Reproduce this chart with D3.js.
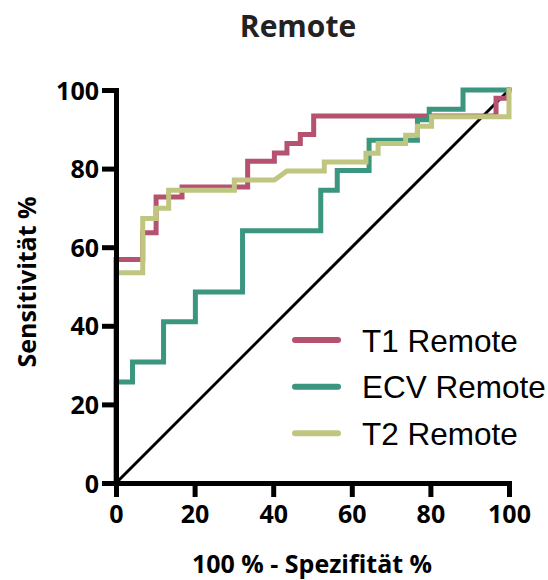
<!DOCTYPE html>
<html>
<head>
<meta charset="utf-8">
<script src="https://cdn.jsdelivr.net/npm/d3@7"></script>
<style>
  html, body { margin: 0; padding: 0; background: #fff; }
  svg { display: block; }
</style>
</head>
<body>
<svg id="chart" width="548" height="580"></svg>
<script>
// ---- Data ----
const title = "Remote";
const xLabel = "100 % - Spezifität %";
const yLabel = "Sensitivität %";
const xTicks = [0, 20, 40, 60, 80, 100];
const yTicks = [0, 20, 40, 60, 80, 100];

const seriesNames = ["T1 Remote", "ECV Remote", "T2 Remote"];
const seriesColors = ["#b5526f", "#3a967e", "#c0c580"];

// T1 Remote ROC corner points (100% - specificity, sensitivity)
const t1X = [0, 0, 6.8, 6.8, 10.2, 10.2, 16.8, 16.8, 33.5, 33.5, 40.3, 40.3, 43.5, 43.5, 46.9, 46.9, 50.3, 50.3, 96.7, 96.7, 99.6, 100];
const t1Y = [0, 56.9, 56.9, 63.7, 63.7, 72.8, 72.8, 75.3, 75.3, 81.9, 81.9, 84.0, 84.0, 86.4, 86.4, 88.7, 88.7, 93.4, 93.4, 97.9, 97.9, 100];

// ECV Remote
const ecvX = [0, 0, 4.2, 4.2, 12.1, 12.1, 20.2, 20.2, 32.2, 32.2, 52.1, 52.1, 56.3, 56.3, 64.4, 64.4, 76.7, 76.7, 79.7, 79.7, 88.3, 88.3, 100];
const ecvY = [0, 25.7, 25.7, 30.8, 30.8, 41.0, 41.0, 48.6, 48.6, 64.2, 64.2, 74.5, 74.5, 79.5, 79.5, 87.2, 87.2, 92.4, 92.4, 95.1, 95.1, 100, 100];

// T2 Remote
const t2X = [0, 0, 6.8, 6.8, 10.2, 10.2, 13.4, 13.4, 30.1, 30.1, 40.3, 43.5, 53.0, 53.0, 63.6, 63.6, 66.7, 66.7, 73.7, 73.7, 76.7, 76.7, 80.3, 80.3, 100, 100];
const t2Y = [0, 53.5, 53.5, 67.3, 67.3, 69.9, 69.9, 74.5, 74.5, 77.1, 77.1, 79.4, 79.4, 81.7, 81.7, 83.9, 83.9, 86.4, 86.4, 88.5, 88.5, 90.8, 90.8, 93.2, 93.2, 100];

// Line of identity
const refX = [0, 100];
const refY = [0, 100];

// ---- Layout ----
const svg = d3.select("#chart");
const margin = { left: 116, top: 90, right: 548 - 509, bottom: 580 - 483 };
const W = 548 - margin.left - margin.right;
const H = 580 - margin.top - margin.bottom;

const x = d3.scaleLinear().domain([0, 100]).range([0, W]);
const y = d3.scaleLinear().domain([0, 100]).range([H, 0]);

const g = svg.append("g").attr("transform", `translate(${margin.left},${margin.top})`);

const numFont = "'Open Sans', Lato, sans-serif";

// Title
svg.append("text")
  .attr("x", 298).attr("y", 37)
  .attr("text-anchor", "middle")
  .style("font-family", numFont).style("font-weight", "bold")
  .style("font-size", "30px").style("fill", "#222")
  .text(title);

// Identity line
const lineGen = d3.line().x(d => x(d[0])).y(d => y(d[1]));
g.append("path")
  .datum(d3.zip(refX, refY))
  .attr("d", lineGen)
  .attr("fill", "none").attr("stroke", "#000").attr("stroke-width", 3);

// Curves (order: T1, ECV, T2 on top)
const curves = [d3.zip(t1X, t1Y), d3.zip(ecvX, ecvY), d3.zip(t2X, t2Y)];
curves.forEach((pts, i) => {
  g.append("path")
    .datum(pts)
    .attr("d", lineGen)
    .attr("fill", "none")
    .attr("stroke", seriesColors[i])
    .attr("stroke-width", 5)
    .attr("stroke-linejoin", "miter")
    .attr("stroke-linecap", "square");
});

// Axes
const xAxis = g.append("g").attr("transform", `translate(0,${H})`)
  .call(d3.axisBottom(x).tickValues(xTicks).tickSize(14).tickSizeOuter(0).tickPadding(8));
const yAxis = g.append("g")
  .call(d3.axisLeft(y).tickValues(yTicks).tickSize(14).tickSizeOuter(0).tickPadding(3));

[xAxis, yAxis].forEach(ax => {
  ax.select(".domain").attr("stroke", "#000").attr("stroke-width", 5).attr("stroke-linecap", "square");
  ax.selectAll(".tick line").attr("stroke", "#000").attr("stroke-width", 5);
  ax.selectAll(".tick text")
    .style("font-family", numFont).style("font-weight", "bold")
    .style("font-size", "25px").attr("fill", "#000");
});
xAxis.selectAll(".tick text").attr("dy", "0.71em");
yAxis.selectAll(".tick text").attr("dy", "0.36em");

// Axis titles
svg.append("text")
  .attr("x", 312).attr("y", 573)
  .attr("text-anchor", "middle")
  .style("font-family", numFont).style("font-weight", "bold")
  .style("font-size", "25px").style("fill", "#000")
  .text(xLabel);

svg.append("text")
  .attr("transform", "translate(36,282) rotate(-90)")
  .attr("text-anchor", "middle")
  .style("font-family", numFont).style("font-weight", "bold")
  .style("font-size", "25px").style("fill", "#000")
  .text(yLabel);

// Legend
const legendY = [340, 386.7, 433.3];
seriesNames.forEach((name, i) => {
  svg.append("line")
    .attr("x1", 295).attr("x2", 338)
    .attr("y1", legendY[i]).attr("y2", legendY[i])
    .attr("stroke", seriesColors[i]).attr("stroke-width", 6)
    .attr("stroke-linecap", "round");
  svg.append("text")
    .attr("x", 362).attr("y", legendY[i] + 11.5)
    .style("font-family", "'Liberation Sans', Arial, sans-serif")
    .style("font-size", "31.5px").style("fill", "#000")
    .text(name);
});
</script>
</body>
</html>
